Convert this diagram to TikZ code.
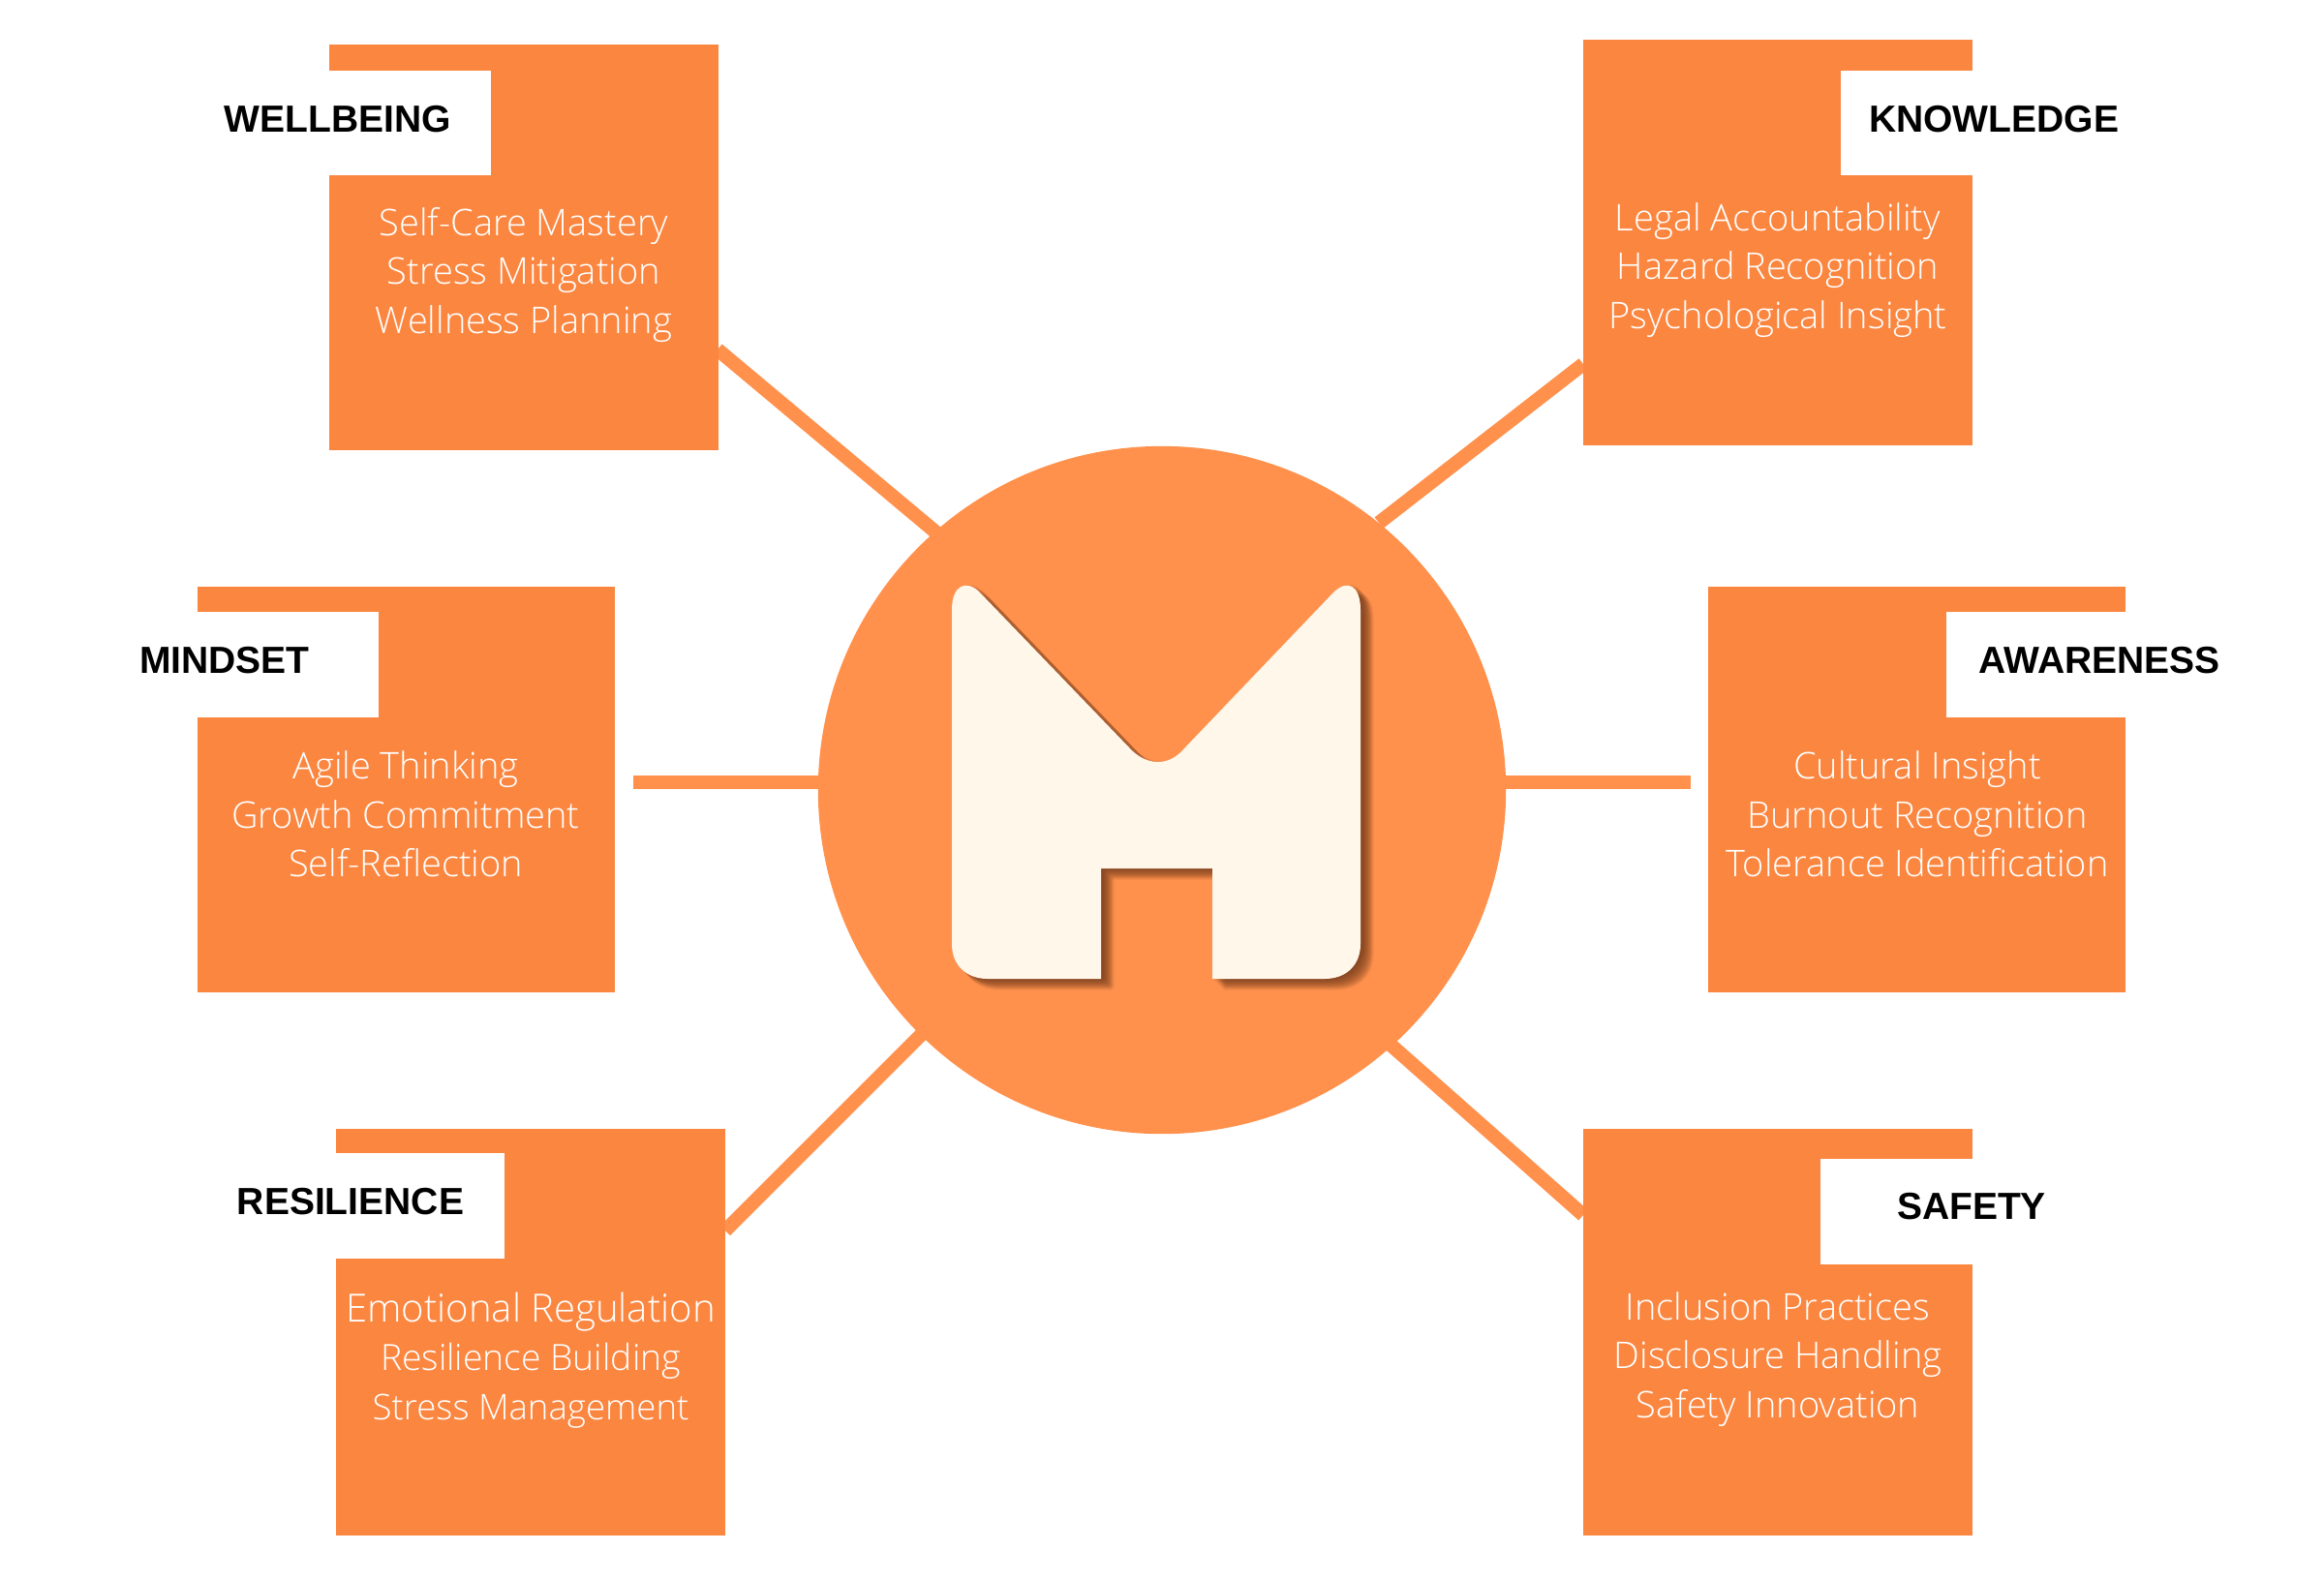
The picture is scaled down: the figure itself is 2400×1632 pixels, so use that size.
\documentclass[tikz,border=0pt]{standalone}
\usepackage{fontspec}
\setmainfont{Open Sans Light}
\newfontfamily\headfont{Liberation Sans Bold}
\definecolor{boxorange}{HTML}{FB8640}
\definecolor{hubcolor}{HTML}{FF914D}
\definecolor{creamy}{HTML}{FFF7EA}
\definecolor{shadowbrown}{HTML}{6E3A1C}
\tikzset{
  x=0.01cm,y=-0.01cm,
  panel/.style={fill=boxorange,draw=none,inner sep=0pt,outer sep=0pt,anchor=north west},
  notch/.style={fill=white,draw=none,inner sep=0pt,outer sep=0pt,anchor=north west},
  head/.style={font=\headfont\fontsize{11.1}{13}\selectfont,text=black,inner sep=0pt},
  bodytext/.style={font=\fontsize{10.8}{14.3}\selectfont,text=white,align=center,inner sep=0pt},
  link/.style={draw=hubcolor,line width=4.1pt},
}
\newcommand{\mshape}{
  (983,630) .. controls (983,604) and (998,598) .. (1012,612)
  -- (1166,772) .. controls (1182,790) and (1206,794) .. (1224,772)
  -- (1377,612) .. controls (1391,598) and (1405,604) .. (1405,630)
  -- (1405,975) .. controls (1405,997) and (1390,1011) .. (1368,1011)
  -- (1252,1011) -- (1252,897) -- (1137,897) -- (1137,1011)
  -- (1020,1011) .. controls (998,1011) and (983,997) .. (983,975) -- cycle
}
\begin{document}
\begin{tikzpicture}
\useasboundingbox (0,0) rectangle (2400,1632);
\fill[white] (0,0) rectangle (2400,1632);

% link ends
\coordinate (wbA) at (741,361);   \coordinate (wbB) at (968,551);
\coordinate (knA) at (1635,376);  \coordinate (knB) at (1424,540);
\coordinate (miA) at (654,808);   \coordinate (miB) at (846,808);
\coordinate (awA) at (1746,808);  \coordinate (awB) at (1554,808);
\coordinate (reA) at (749,1271);  \coordinate (reB) at (952,1068);
\coordinate (saA) at (1635,1255); \coordinate (saB) at (1436,1079);
\draw[link] (wbA) -- (wbB);
\draw[link] (knA) -- (knB);
\draw[link] (miA) -- (miB);
\draw[link] (awA) -- (awB);
\draw[link] (reA) -- (reB);
\draw[link] (saA) -- (saB);

% panels
\node[panel,minimum width=4.02cm,minimum height=4.19cm] (wellbeing) at (340,46) {};
\node[panel,minimum width=4.02cm,minimum height=4.19cm] (knowledge) at (1635,41) {};
\node[panel,minimum width=4.31cm,minimum height=4.19cm] (mindset) at (204,606) {};
\node[panel,minimum width=4.31cm,minimum height=4.19cm] (awareness) at (1764,606) {};
\node[panel,minimum width=4.02cm,minimum height=4.2cm] (resilience) at (347,1166) {};
\node[panel,minimum width=4.02cm,minimum height=4.2cm] (safety) at (1635,1166) {};

% label notches
\node[notch,minimum width=1.67cm,minimum height=1.08cm] (wbN) at (340,73) {};
\node[notch,minimum width=1.36cm,minimum height=1.08cm] (knN) at (1901,73) {};
\node[notch,minimum width=1.87cm,minimum height=1.09cm] (miN) at (204,632) {};
\node[notch,minimum width=1.87cm,minimum height=1.09cm] (awN) at (2010,632) {};
\node[notch,minimum width=1.74cm,minimum height=1.09cm] (reN) at (347,1191) {};
\node[notch,minimum width=1.58cm,minimum height=1.09cm] (saN) at (1880,1197) {};

% headings
\node[head] (wbH) at (349,123) {WELLBEING};
\node[head] (knH) at (2059,123) {KNOWLEDGE};
\node[head] (miH) at (232,682) {MINDSET};
\node[head] (awH) at (2168,682) {AWARENESS};
\node[head] (reH) at (362,1241) {RESILIENCE};
\node[head] (saH) at (2036,1246) {SAFETY};

% body text
\node[bodytext] (wbT) at (541,284) {Self-Care Mastery\\Stress Mitigation\\Wellness Planning};
\node[bodytext] (knT) at (1836,279) {Legal Accountability\\Hazard Recognition\\Psychological Insight};
\node[bodytext] (miT) at (419,841) {Agile Thinking\\Growth Commitment\\Self-Reflection};
\node[bodytext] (awT) at (1980,841) {Cultural Insight\\Burnout Recognition\\Tolerance Identification};
\node[bodytext] (reT) at (548,1405) {{\fontsize{11.4}{14.5}\selectfont Emotional Regulation}\\{\fontsize{10.6}{14.5}\selectfont Resilience Building}\\{\fontsize{10.4}{14.5}\selectfont Stress Management}};
\node[bodytext] (saT) at (1836,1404) {Inclusion Practices\\Disclosure Handling\\Safety Innovation};

% hub
\node[circle,fill=hubcolor,draw=none,minimum size=7.1cm,inner sep=0pt] (hub) at (1200,816) {};

% soft shadow of the M: shifted translucent copies, darkest by the edge
\foreach \k in {1,...,12}{
  \fill[shadowbrown,opacity=0.06,shift={(\k,\k)}] \mshape;
  \fill[shadowbrown,opacity=0.06,shift={(\k+2,\k-2)}] \mshape;
}
\fill[creamy] \mshape;
\end{tikzpicture}
\end{document}
